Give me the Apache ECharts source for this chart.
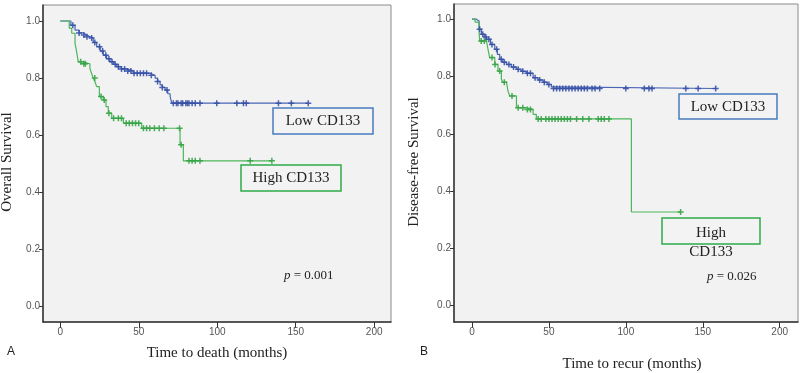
<!DOCTYPE html>
<html>
<head>
<meta charset="utf-8">
<script src="https://cdn.jsdelivr.net/npm/echarts@6/dist/echarts.min.js"></script>
<style>
  html, body { margin: 0; padding: 0; background: #fff; }
  #chart { width: 800px; height: 373px; }
</style>
</head>
<body>
<div id="chart"></div>
<script>
// 坐标轴刻度
var xTicks = [0, 50, 100, 150, 200];
var yTicks = [0, 0.2, 0.4, 0.6, 0.8, 1.0];

// A: Overall survival, Low CD133 (event times / survival after step)
var lowA_t = [0, 6.8, 9.4, 12, 14.7, 17, 18.9, 21, 23.2, 25.5, 27.4, 29.5, 31.7, 34, 36, 39, 42.3, 46.6, 57.2, 60.4, 62, 63.6, 65, 66.8, 68.5, 70, 71, 158];
var lowA_s = [1.0, 0.985, 0.968, 0.958, 0.951, 0.945, 0.94, 0.925, 0.91, 0.895, 0.88, 0.868, 0.857, 0.848, 0.84, 0.832, 0.825, 0.817, 0.81, 0.80, 0.788, 0.776, 0.767, 0.758, 0.745, 0.735, 0.712, 0.712];
var lowA_cens = [8, 12, 15, 17, 20, 22, 25, 27, 29, 31, 33, 35, 37, 39, 41, 43, 45, 47, 49, 51, 53, 55, 58, 62, 65, 68, 72, 74, 75, 77, 78, 80, 81, 82, 84, 86, 89, 99.7, 112.5, 116.7, 118.5, 139, 147.2, 158];

// A: High CD133
var highA_t = [0, 5.7, 7.3, 9.4, 10.5, 11.5, 14, 18.9, 20, 21, 22.2, 23.2, 24.9, 27.4, 29.1, 30.6, 32.8, 40.2, 51.9, 76.3, 78.4, 134.8];
var highA_s = [1.0, 0.975, 0.957, 0.922, 0.89, 0.857, 0.85, 0.834, 0.815, 0.80, 0.785, 0.77, 0.735, 0.723, 0.70, 0.677, 0.659, 0.642, 0.624, 0.566, 0.51, 0.51];
var highA_cens = [13, 15, 16, 22, 26, 28, 31, 34, 37, 39, 42, 44, 46, 48, 50, 53, 55, 57, 60, 63, 66, 76, 77, 82, 84, 86, 89, 121, 134.8];

// B: Disease-free survival, Low CD133
var lowB_t = [0, 2.8, 4.6, 6.1, 8, 9.4, 12, 14.8, 16.5, 18, 20, 22.4, 25.5, 28.9, 32, 35.4, 39.7, 43, 46.2, 49, 51.6, 53, 158.4];
var lowB_s = [1.0, 0.994, 0.965, 0.947, 0.938, 0.93, 0.912, 0.895, 0.877, 0.86, 0.85, 0.842, 0.833, 0.825, 0.818, 0.811, 0.796, 0.788, 0.78, 0.772, 0.764, 0.758, 0.758];
var lowB_cens = [5, 7, 9, 11, 13, 16, 19, 21, 24, 27, 30, 33, 36, 38, 41, 44, 47, 50, 53, 55, 57, 59, 61, 63, 65, 67, 69, 71, 73, 75, 78, 80, 83, 100, 112, 115, 117, 139, 147, 158.4];

// B: High CD133
var highB_t = [0, 2, 4.6, 5, 9.4, 10.4, 11.5, 14.8, 16.9, 19.1, 20.1, 22.4, 23.4, 24.5, 28.9, 35.4, 39.7, 41.8, 103.6, 135.6];
var highB_s = [1.0, 0.99, 0.953, 0.924, 0.92, 0.895, 0.866, 0.842, 0.819, 0.79, 0.78, 0.774, 0.749, 0.732, 0.691, 0.685, 0.668, 0.652, 0.327, 0.327];
var highB_cens = [6, 8, 13, 15, 18, 21, 26, 30, 33, 36, 38, 43, 45, 48, 50, 52, 54, 56, 58, 60, 62, 64, 68, 72, 76, 82, 84, 86, 89, 135.6];

var blueLine = '#4a65b6', blueMark = '#3650a6';
var greenLine = '#4db55b', greenMark = '#36a346';
var plusPath = 'path://M3,0h2v3h3v2h-3v3h-2v-3h-3v-2h3z';

function zip(ts, ss) {
    var out = [];
    for (var i = 0; i < ts.length; i++) out.push([ts[i], ss[i]]);
    return out;
}
// 删失点落在阶梯曲线上
function censorPts(ts, ss, cens) {
    return cens.map(function (c) {
        var v = ss[0];
        for (var i = 0; i < ts.length; i++) { if (ts[i] <= c) v = ss[i]; }
        return [c, v];
    });
}

function xAxisOf(idx, min, max) {
    return {
        gridIndex: idx, type: 'value', min: min, max: max,
        axisLine: { onZero: false, lineStyle: { color: '#333', width: 1.5 } },
        axisTick: { customValues: xTicks, length: 6, lineStyle: { color: '#333' } },
        axisLabel: { customValues: xTicks, color: '#555', fontSize: 10, fontFamily: 'Liberation Sans', margin: 5 },
        splitLine: { show: false }
    };
}
function yAxisOf(idx, min, max) {
    return {
        gridIndex: idx, type: 'value', min: min, max: max,
        axisLine: { onZero: false, lineStyle: { color: '#333', width: 1.5 } },
        axisTick: { customValues: yTicks, length: 4, lineStyle: { color: '#333' } },
        axisLabel: { customValues: yTicks, color: '#555', fontSize: 10, fontFamily: 'Liberation Sans', margin: 3,
            formatter: function (v) { return v.toFixed(1); } },
        splitLine: { show: false }
    };
}
function stepSeries(idx, ts, ss, color) {
    return { type: 'line', xAxisIndex: idx, yAxisIndex: idx, step: 'end', showSymbol: false,
        lineStyle: { color: color, width: 1.2 }, data: zip(ts, ss), z: 2 };
}
function censorSeries(idx, ts, ss, cens, color) {
    return { type: 'scatter', xAxisIndex: idx, yAxisIndex: idx, symbol: plusPath, symbolSize: 6,
        itemStyle: { color: color, opacity: 0.9 }, data: censorPts(ts, ss, cens), z: 3 };
}

var serif = 'Liberation Serif';
function label(x, y, text, size, extra) {
    var st = { text: text, x: x, y: y, fontFamily: serif, fontSize: size, fill: '#222', align: 'center', verticalAlign: 'middle' };
    for (var k in extra) st[k] = extra[k];
    return { type: 'text', style: st, z: 10 };
}
function box(x, y, w, h, color) {
    return { type: 'rect', shape: { x: x, y: y, width: w, height: h },
        style: { fill: '#f3f3f3', stroke: color, lineWidth: 1.5 }, z: 9 };
}
function pText(x, y, val) {
    return { type: 'text', x: x, y: y, z: 10,
        style: { text: '{i|p} = ' + val, verticalAlign: 'middle', fontFamily: serif, fontSize: 13, fill: '#222',
            rich: { i: { fontStyle: 'italic', fontFamily: serif, fontSize: 13, fill: '#222' } } } };
}

var chart = echarts.init(document.getElementById('chart'));
chart.setOption({
    animation: false,
    backgroundColor: '#fff',
    grid: [
        { left: 43, top: 5, width: 348, height: 317, show: true, backgroundColor: '#f2f2f2', borderColor: '#8a8a8a', borderWidth: 1 },
        { left: 454, top: 4, width: 344, height: 318, show: true, backgroundColor: '#f2f2f2', borderColor: '#8a8a8a', borderWidth: 1 }
    ],
    xAxis: [xAxisOf(0, -11, 210.7), xAxisOf(1, -11.7, 211.9)],
    yAxis: [yAxisOf(0, -0.055, 1.056), yAxisOf(1, -0.057, 1.053)],
    series: [
        stepSeries(0, lowA_t, lowA_s, blueLine),
        stepSeries(0, highA_t, highA_s, greenLine),
        censorSeries(0, lowA_t, lowA_s, lowA_cens, blueMark),
        censorSeries(0, highA_t, highA_s, highA_cens, greenMark),
        stepSeries(1, lowB_t, lowB_s, blueLine),
        stepSeries(1, highB_t, highB_s, greenLine),
        censorSeries(1, lowB_t, lowB_s, lowB_cens, blueMark),
        censorSeries(1, highB_t, highB_s, highB_cens, greenMark)
    ],
    graphic: [
        // 面板 A
        box(273, 108, 100, 26, '#4a7cc0'),
        label(323, 121, 'Low CD133', 15),
        box(241, 165, 100, 26, '#2eaa4a'),
        label(291, 178, 'High CD133', 15),
        pText(284, 276, '0.001'),
        label(217, 353, 'Time to death (months)', 15),
        { type: 'text', x: 7, y: 162, rotation: Math.PI / 2, z: 10,
          style: { text: 'Overall Survival', fontFamily: serif, fontSize: 15, fill: '#222', align: 'center', verticalAlign: 'middle' } },
        label(11, 352, 'A', 12, { fontFamily: 'Liberation Sans' }),
        // 面板 B
        box(679, 94, 98, 25, '#4a7cc0'),
        label(728, 107, 'Low CD133', 15),
        box(662, 218, 98, 26, '#2eaa4a'),
        label(711, 233, 'High', 15),
        label(711, 252, 'CD133', 15),
        pText(707, 277, '0.026'),
        label(632, 364, 'Time to recur (months)', 15),
        { type: 'text', x: 414, y: 162, rotation: Math.PI / 2, z: 10,
          style: { text: 'Disease-free Survival', fontFamily: serif, fontSize: 15, fill: '#222', align: 'center', verticalAlign: 'middle' } },
        label(424, 352, 'B', 12, { fontFamily: 'Liberation Sans' })
    ]
});
</script>
</body>
</html>
